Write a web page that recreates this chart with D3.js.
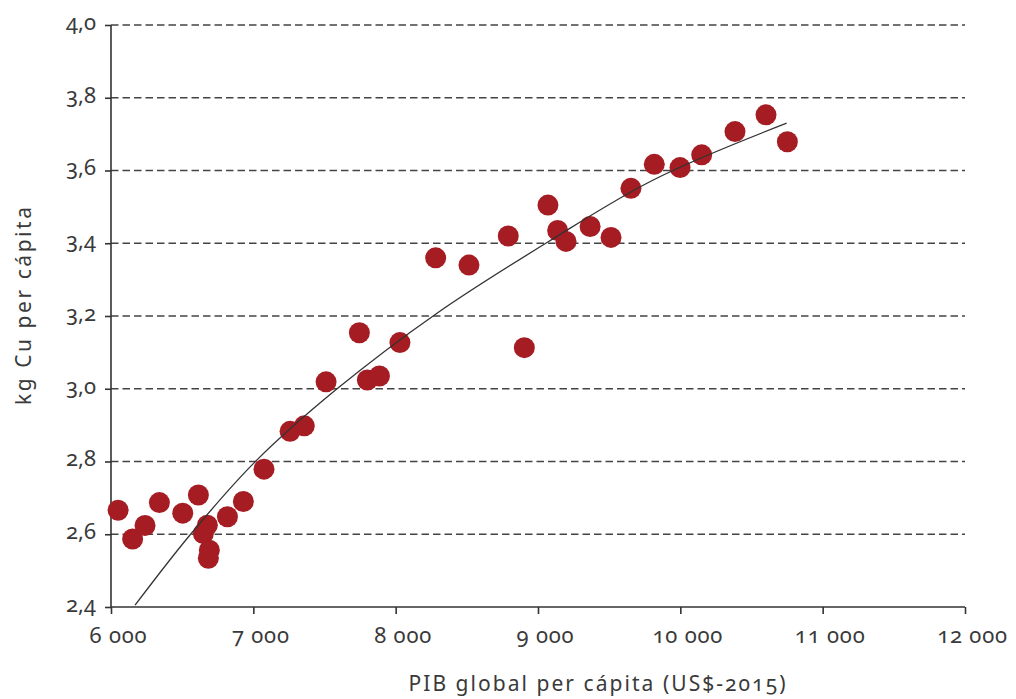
<!DOCTYPE html>
<html>
<head>
<meta charset="utf-8">
<script src="https://cdn.jsdelivr.net/npm/d3@7"></script>
<style>
  html, body { margin: 0; padding: 0; background: #fff; }
  svg text { font-family: "Noto Sans", "Open Sans", sans-serif; fill: #3a3a3a; font-variant-numeric: oldstyle-nums; font-feature-settings: "onum" 1; }
</style>
</head>
<body>
<svg id="chart" width="1016" height="699"></svg>
<script>
// Observations: world GDP per capita (US$-2015) vs copper use (kg per capita)
const gdpPerCapita = [
  6050, 6152, 6239, 6340, 6504, 6614, 6677, 6649, 6691, 6684, 6818, 6930,
  7075, 7258, 7358, 7511, 7745, 7801, 7886, 8030, 8281, 8515, 8791, 8904,
  9070, 9138, 9197, 9366, 9513, 9653, 9817, 9998, 10150, 10384, 10602, 10752
];
const copperPerCapita = [
  2.666, 2.587, 2.624, 2.687, 2.658, 2.708, 2.625, 2.602, 2.556, 2.534, 2.648, 2.690,
  2.779, 2.883, 2.898, 3.019, 3.154, 3.024, 3.035, 3.127, 3.360, 3.340, 3.420, 3.113,
  3.505, 3.435, 3.405, 3.446, 3.416, 3.551, 3.617, 3.608, 3.643, 3.707, 3.753, 3.679
];

// Trend curve, sampled along its length
const trendGdp = [6169, 6555, 7012, 7586, 8288, 9072, 9810, 10747];
const trendCopper = [2.405, 2.598, 2.799, 2.999, 3.207, 3.404, 3.574, 3.730];

// Axis ticks
const xTicks = [6000, 7000, 8000, 9000, 10000, 11000, 12000];
const xTickLabels = ["6 000", "7 000", "8 000", "9 000", "10 000", "11 000", "12 000"];
const yTicks = [2.4, 2.6, 2.8, 3.0, 3.2, 3.4, 3.6, 3.8, 4.0];
const yTickLabels = ["2,4", "2,6", "2,8", "3,0", "3,2", "3,4", "3,6", "3,8", "4,0"];

const xTitle = "PIB global per cápita (US$-2015)";
const yTitle = "kg Cu per cápita";

const margin = { top: 25, right: 51, bottom: 92, left: 111 };
const W = 1016, H = 699;
const iw = W - margin.left - margin.right;
const ih = H - margin.top - margin.bottom;

const svg = d3.select("#chart");
const g = svg.append("g").attr("transform", `translate(${margin.left},${margin.top})`);

const x = d3.scaleLinear().domain([6000, 12000]).range([0, iw]);
const y = d3.scaleLinear().domain([2.4, 4.0]).range([ih, 0]);

// Dashed horizontal gridlines
g.append("g")
  .selectAll("line")
  .data(yTicks.filter(v => v > 2.4))
  .join("line")
  .attr("x1", 0).attr("x2", iw)
  .attr("y1", d => y(d)).attr("y2", d => y(d))
  .attr("stroke", "#444")
  .attr("stroke-width", 1.6)
  .attr("stroke-dasharray", "7.5,4");

// Y axis
const yAxis = g.append("g")
  .call(d3.axisLeft(y).tickValues(yTicks)
    .tickFormat((d, i) => yTickLabels[i])
    .tickSize(6).tickPadding(9));
yAxis.select(".domain").remove();
yAxis.append("line").attr("x1", 0).attr("x2", 0).attr("y1", 0).attr("y2", ih)
  .attr("stroke", "#333").attr("stroke-width", 1.6);
yAxis.selectAll(".tick line").attr("stroke", "#333").attr("stroke-width", 1.6);
yAxis.selectAll(".tick text")
  .attr("font-size", 22).attr("dy", "0.2em");

// X axis
const xAxis = g.append("g")
  .attr("transform", `translate(0,${ih})`)
  .call(d3.axisBottom(x).tickValues(xTicks)
    .tickFormat((d, i) => xTickLabels[i])
    .tickSize(7).tickPadding(13));
xAxis.select(".domain").remove();
xAxis.append("line").attr("x1", 0).attr("x2", iw).attr("y1", 0).attr("y2", 0)
  .attr("stroke", "#333").attr("stroke-width", 1.6);
xAxis.selectAll(".tick line").attr("stroke", "#333").attr("stroke-width", 1.6);
xAxis.selectAll(".tick text")
  .attr("font-size", 22).attr("letter-spacing", 0.8).attr("dx", 7);
// Axis-generated text carries fill from currentColor; use the label grey
svg.selectAll(".tick text").attr("fill", "#3a3a3a");
svg.selectAll("g[font-family]").attr("font-family", null);

// Scatter points
const points = gdpPerCapita.map((v, i) => ({ gdp: v, cu: copperPerCapita[i] }));
g.append("g")
  .selectAll("circle")
  .data(points)
  .join("circle")
  .attr("cx", d => x(d.gdp))
  .attr("cy", d => y(d.cu))
  .attr("r", 10.5)
  .attr("fill", "#a51c23");

// Trend curve
const trend = trendGdp.map((v, i) => [v, trendCopper[i]]);
g.append("path")
  .datum(trend)
  .attr("fill", "none")
  .attr("stroke", "#333")
  .attr("stroke-width", 1.3)
  .attr("d", d3.line().x(d => x(d[0])).y(d => y(d[1])).curve(d3.curveCatmullRom));

// Axis titles
svg.append("text")
  .attr("x", 597).attr("y", 691)
  .attr("text-anchor", "middle")
  .attr("font-size", 21)
  .attr("textLength", 377)
  .attr("lengthAdjust", "spacing")
  .text(xTitle);

svg.append("text")
  .attr("transform", "translate(31,306) rotate(-90)")
  .attr("text-anchor", "middle")
  .attr("font-size", 21)
  .attr("textLength", 198)
  .attr("lengthAdjust", "spacing")
  .text(yTitle);
</script>
</body>
</html>
